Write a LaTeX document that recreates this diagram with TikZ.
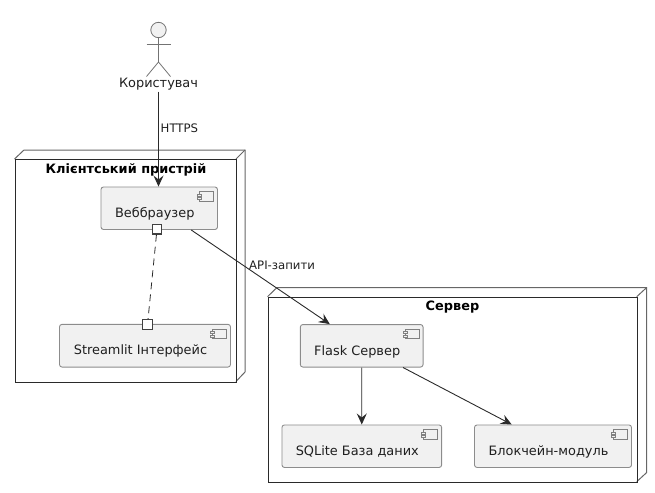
\documentclass[tikz,border=0pt]{standalone}
\usepackage{fontspec}
\setmainfont{DejaVu Sans}
\usetikzlibrary{arrows.meta}
\definecolor{boxfill}{HTML}{F1F1F1}
\definecolor{boxline}{HTML}{8C8C8C}
\definecolor{inkline}{HTML}{2A2A2A}
\tikzset{
  x=1pt,y=-1pt,
  comp/.style={draw=boxline,fill=boxfill,line width=0.9pt,rounded corners=2.5pt,inner sep=0pt,font=\fontsize{12.9}{15}\selectfont,text=black!88},
  nodebox/.style={draw=inkline,line width=1pt,line join=miter},
  nodeside/.style={draw=black!60,line width=1pt},
  nodetitle/.style={font=\fontsize{12.9}{15}\selectfont\bfseries,text=black,inner sep=0pt},
  port/.style={draw=black!75,fill=white,line width=1.3pt,minimum size=9.5pt,inner sep=0pt},
  lbl/.style={font=\fontsize{11.7}{14}\selectfont,text=black!88,inner sep=0pt},
  link/.style={draw=inkline,line width=0.9pt,-{Stealth[length=11pt,width=10pt,inset=4pt]}},
  actorline/.style={draw=black!55,line width=0.8pt},
  iconline/.style={draw=black!50,line width=0.6pt,fill=boxfill},
}
\newcommand{\comptext}[1]{\raisebox{-9.2pt}[0pt][0pt]{#1}\kern9pt\relax}
\newcommand{\compicon}[1]{%
  \path (#1.north east) ++(-18.5,5) coordinate (ic);
  \draw[iconline] (ic) rectangle ++(14,9.5);
  \draw[iconline] (ic) ++(-2,2.5) rectangle ++(4,2);
  \draw[iconline] (ic) ++(-2,6) rectangle ++(4,2);
}
\begin{document}
\begin{tikzpicture}
\useasboundingbox (0,0) rectangle (655,492);
% client device
\draw[nodeside] (14.5,159) -- (24,150) -- (245,150) -- (245,372) -- (236,381.5);
\draw[nodeside] (236,159) -- (245,150);
\node[nodebox,draw,minimum width=221.5pt,minimum height=222.5pt,anchor=north west,inner sep=0pt] (client) at (14.5,159) {};
\node[nodetitle] (clienttitle) at (126,169.5) {Клієнтський пристрій};
% server
\draw[nodeside] (267.5,296.7) -- (277,287.5) -- (646.7,287.5) -- (646.7,472.5) -- (636.7,481.7);
\draw[nodeside] (636.7,296.7) -- (646.7,287.5);
\node[nodebox,draw,minimum width=369.2pt,minimum height=185pt,anchor=north west,inner sep=0pt] (server) at (267.5,296.7) {};
\node[nodetitle] (servertitle) at (452.5,307) {Сервер};
% components
\node[comp,minimum width=116.5pt,minimum height=42.5pt] (browser) at (159.25,208.25) {\comptext{Веббраузер}};
\node[comp,minimum width=171pt,minimum height=42.7pt] (streamlit) at (145,345.7) {\comptext{Streamlit Інтерфейс}};
\node[comp,minimum width=122.7pt,minimum height=42.5pt] (flask) at (361.7,345.8) {\comptext{Flask Сервер}};
\node[comp,minimum width=159.7pt,minimum height=42.5pt] (sqlite) at (361.8,446.2) {\comptext{SQLite База даних}};
\node[comp,minimum width=157pt,minimum height=42.5pt] (chain) at (553,446.2) {\comptext{Блокчейн-модуль}};
\compicon{browser}
\compicon{streamlit}
\compicon{flask}
\compicon{sqlite}
\compicon{chain}
% actor
\node[circle,draw=black!55,fill=boxfill,line width=0.8pt,minimum size=15.4pt,inner sep=0pt] (head) at (158.5,30) {};
\coordinate (hip) at (158.5,62);
\coordinate (armL) at (146.5,44.5);
\coordinate (armR) at (170.5,44.5);
\coordinate (legL) at (146.5,76.5);
\coordinate (legR) at (170.5,76.5);
\draw[actorline] (head) -- (hip);
\draw[actorline] (armL) -- (armR);
\draw[actorline] (legL) -- (hip) -- (legR);
\node[font=\fontsize{12.9}{15}\selectfont,text=black!88,inner sep=0pt,minimum height=14pt] (user) at (158.5,84.5) {Користувач};
% ports
\node[port] (portA) at (157,229.2) {};
\node[port] (portB) at (147.5,324.5) {};
% connectors
\draw[link] (user.south) -- (user.south |- browser.north);
\draw[link] (browser) -- (flask);
\draw[link] (flask) -- (sqlite);
\draw[link] (flask) -- (chain);
\draw[draw=inkline,line width=0.8pt,dash pattern=on 7pt off 5pt] (portA) -- (portB);
\node[lbl,anchor=west] (https) at (160.5,128) {HTTPS};
\node[lbl,anchor=west] (api) at (249,265.5) {API-запити};
\end{tikzpicture}
\end{document}
